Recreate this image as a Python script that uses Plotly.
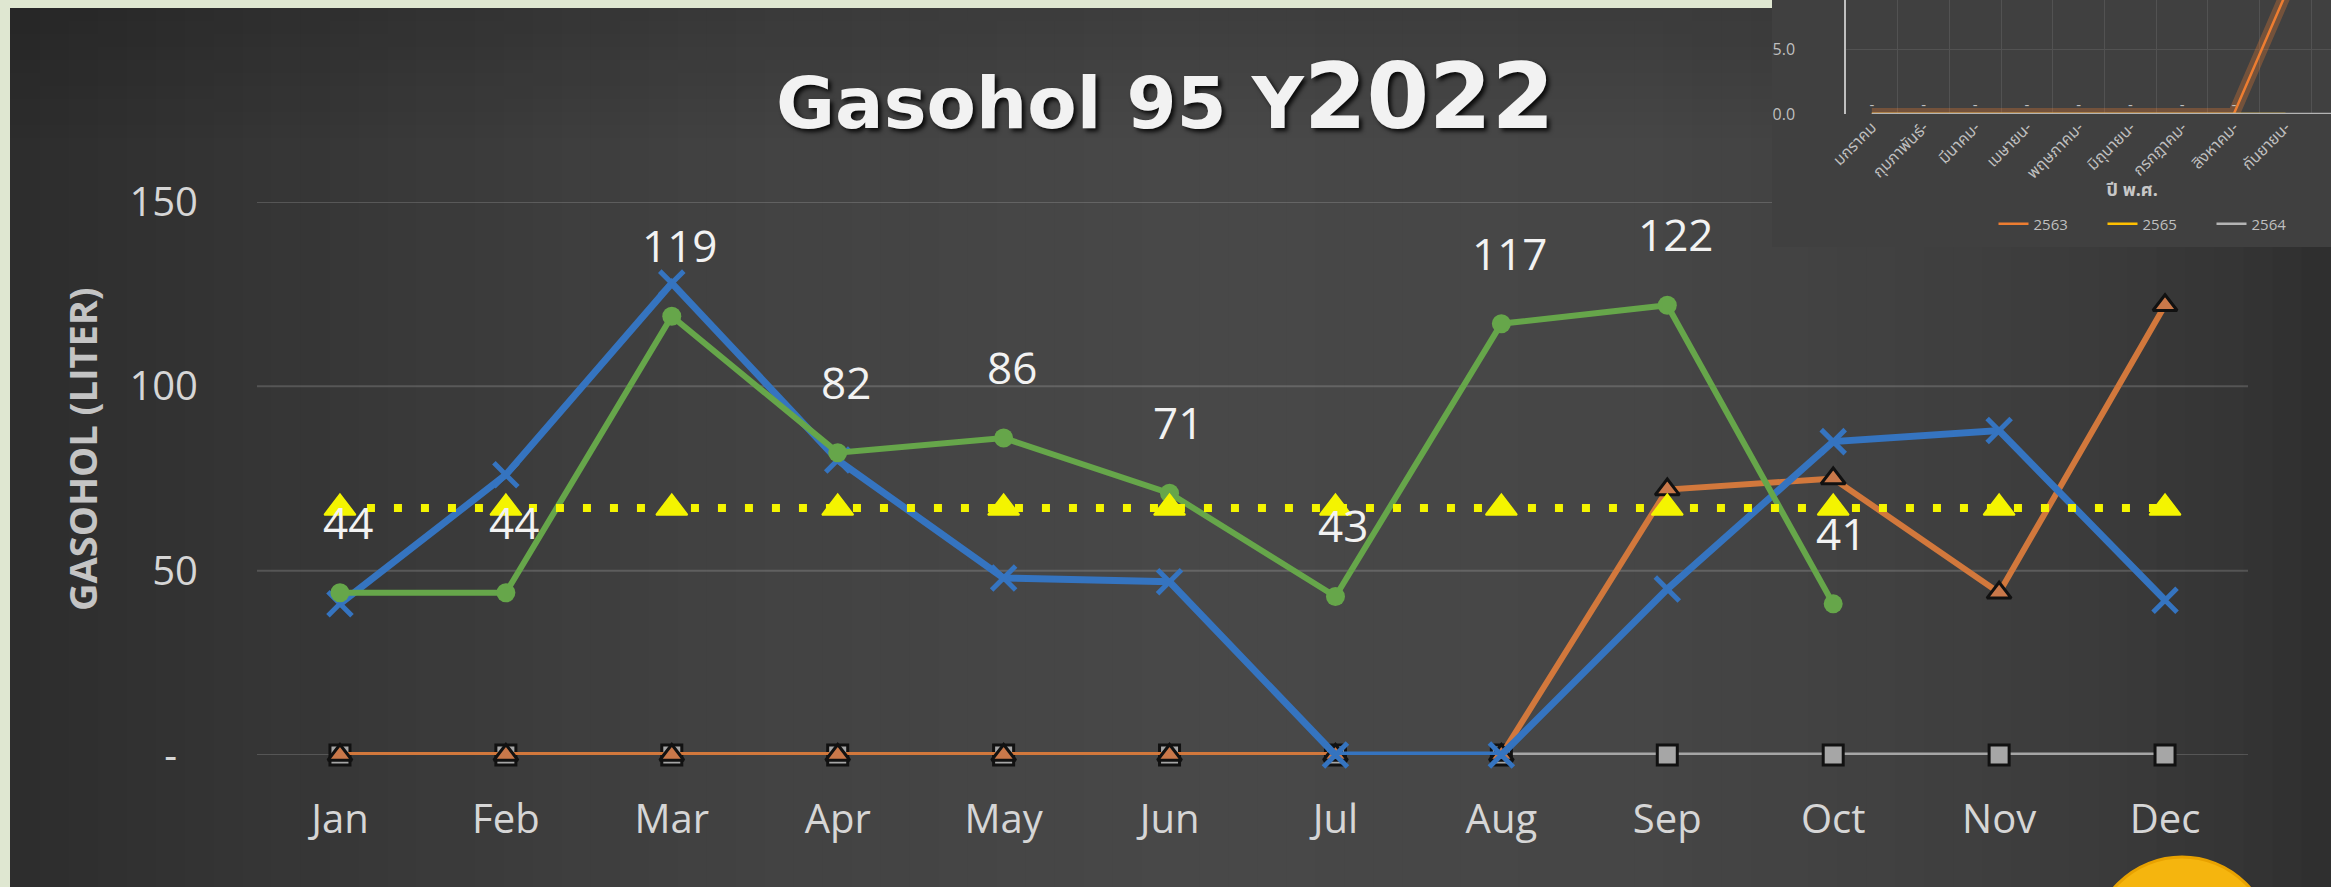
import plotly.graph_objects as go
import numpy as np

W, H = 2331, 887

# ---------------- data: main chart ----------------
months = ["Jan", "Feb", "Mar", "Apr", "May", "Jun", "Jul", "Aug", "Sep", "Oct", "Nov", "Dec"]
green_2022 = [44, 44, 119, 82, 86, 71, 43, 117, 122, 41, None, None]
blue_series = [41, 76, 128, 80, 48, 47, 0, 0, 45, 85, 88, 42]
orange_series = [0, 0, 0, 0, 0, 0, 0, 0, 72, 75, 44, 122]
gray_series = [0, 0, 0, 0, 0, 0, 0, 0, 0, 0, 0, 0]
yellow_series = [67, 67, 67, 67, 67, 67, 67, 67, 67, 67, 67, 67]
y_tick_vals = [0, 50, 100, 150]
y_tick_text = ["-\u00a0\u00a0", "50", "100", "150"]

# ---------------- data: inset chart (top right) ----------------
inset_months = ["มกราคม", "กุมภาพันธ์-", "มีนาคม-", "เมษายน-", "พฤษภาคม-", "มิถุนายน-",
                "กรกฎาคม-", "สิงหาคม-", "กันยายน-", "ตุลาคม"]
inset_2563 = [0, 0, 0, 0, 0, 0, 0, 0, 9.2, None]
inset_2565 = [0, 0, 0, 0, 0, 0, 0, 0, 0, None]
inset_2564 = [0, 0, 0, 0, 0, 0, 0, 0, 0, 0]
inset_tick_vals = [0, 5]
inset_tick_text = ["0.0", "5.0"]


def fx(px):
    return px / W


def fy(py):
    return 1 - py / H


M_L, M_R, M_T, M_B = 257, 2248, 202, 755
I_L, I_T, I_B = 1846, 0, 114
THAI = "Noto Sans Thai, Noto Sans, sans-serif"

fig = go.Figure()

# main traces (draw order: gray, orange, blue, green, yellow)
fig.add_trace(go.Scatter(x=months, y=gray_series, mode="lines+markers",
                         line=dict(color="#a6a6a6", width=5),
                         marker=dict(symbol="square", size=20, color="#a6a6a6",
                                     line=dict(color="#111111", width=3)),
                         cliponaxis=False, showlegend=False))
fig.add_trace(go.Scatter(x=months, y=orange_series, mode="lines+markers",
                         line=dict(color="#d2783c", width=6),
                         marker=dict(symbol="triangle-up", size=21, color="#c9784a",
                                     line=dict(color="#111111", width=3)),
                         cliponaxis=False, showlegend=False))
fig.add_trace(go.Scatter(x=months, y=blue_series, mode="lines+markers",
                         line=dict(color="#3574c0", width=7),
                         marker=dict(symbol="x-thin", size=24,
                                     line=dict(color="#3574c0", width=5)),
                         cliponaxis=False, showlegend=False))
fig.add_trace(go.Scatter(x=months, y=green_2022, mode="lines+markers",
                         line=dict(color="#66a64a", width=6),
                         marker=dict(symbol="circle", size=19, color="#66a64a"),
                         cliponaxis=False, showlegend=False))
fig.add_trace(go.Scatter(x=months, y=yellow_series, mode="lines+markers",
                         line=dict(color="#f4f400", width=8, dash="8px,19px"),
                         marker=dict(symbol="triangle-up", size=27, color="#f4f400",
                                     line=dict(color="#f4f400", width=2)),
                         cliponaxis=False, showlegend=False))

# inset traces
fig.add_trace(go.Scatter(x=inset_months, y=inset_2563, xaxis="x2", yaxis="y2", mode="lines",
                         line=dict(color="rgba(237,125,49,0.30)", width=12),
                         showlegend=False, hoverinfo="skip"))
fig.add_trace(go.Scatter(x=inset_months, y=inset_2563, xaxis="x2", yaxis="y2", mode="lines",
                         line=dict(color="#ed7d31", width=2.5), name="2563"))
fig.add_trace(go.Scatter(x=inset_months, y=inset_2565, xaxis="x2", yaxis="y2", mode="lines",
                         line=dict(color="#ffc000", width=2.5), name="2565"))
fig.add_trace(go.Scatter(x=inset_months, y=inset_2564, xaxis="x2", yaxis="y2", mode="lines",
                         line=dict(color="#b4b4b4", width=2.5), name="2564"))
fig.add_trace(go.Scatter(x=inset_months, y=inset_2563, xaxis="x2", yaxis="y2", mode="text",
                         text=["-" if v == 0 else "" for v in inset_2563],
                         textposition="top center",
                         textfont=dict(size=15, color="#bfbfbf", family="Open Sans"),
                         showlegend=False, hoverinfo="skip"))

# ---------------- shapes (background styling) ----------------
shapes = []
stops_x = [10, 300, 740, 1190, 1635, 2007, 2230, 2331]
stops_g = [44, 54, 66, 72, 70, 62, 53, 46]
n_strips = 80
edges = np.linspace(10, W, n_strips + 1)
for a, b in zip(edges[:-1], edges[1:]):
    g = int(round(np.interp((a + b) / 2, stops_x, stops_g)))
    shapes.append(dict(type="rect", xref="paper", yref="paper", layer="below",
                       x0=fx(a), x1=fx(b + 1), y0=fy(H), y1=fy(8),
                       fillcolor=f"rgb({g},{g},{g})", line=dict(width=0)))
# slight darkening toward the top edge
for i in range(10):
    shapes.append(dict(type="rect", xref="paper", yref="paper", layer="below",
                       x0=fx(10), x1=1.0, y0=fy(8 + (i + 1) * 13), y1=fy(8 + i * 13),
                       fillcolor=f"rgba(0,0,0,{0.13 * (1 - i / 10):.3f})", line=dict(width=0)))
# main horizontal gridlines
for v in y_tick_vals:
    shapes.append(dict(type="line", xref="paper", yref="y", layer="below",
                       x0=fx(M_L), x1=fx(M_R), y0=v, y1=v,
                       line=dict(color="rgba(255,255,255,0.16)", width=2)))
# inset panel
shapes.append(dict(type="rect", xref="paper", yref="paper", layer="below",
                   x0=fx(1772), x1=1.0, y0=fy(247), y1=1.0,
                   fillcolor="#404040", line=dict(width=0)))
# orange badge at bottom right
shapes.append(dict(type="circle", xref="paper", yref="paper", layer="below",
                   x0=fx(2092), x1=fx(2272), y0=fy(1037), y1=fy(857),
                   fillcolor="#f5b50e", line=dict(color="#e8a200", width=3)))

# ---------------- annotations ----------------
ann = []
ann.append(dict(xref="paper", yref="paper", x=fx(1165), y=fy(97), showarrow=False,
                text="<b>Gasohol 95 Y<span style='font-size:90px'>2022</span></b>",
                font=dict(family="DejaVu Sans", size=72, color="#f2f2f2",
                          shadow="3px 3px 4px rgba(0,0,0,0.85)"),
                xanchor="center", yanchor="middle"))
ann.append(dict(xref="paper", yref="paper", x=fx(82), y=fy(449), showarrow=False,
                text="<b>GASOHOL (LITER)</b>", textangle=-90,
                font=dict(family="Open Sans", size=38, color="#c4c4c4"),
                xanchor="center", yanchor="middle"))
for m, v in zip(months, green_2022):
    if v is None:
        continue
    ann.append(dict(xref="x", yref="y", x=m, y=v, yshift=71, xshift=8, showarrow=False,
                    text=str(v), font=dict(family="Open Sans", size=44, color="#f2f2f2")))
ann.append(dict(xref="paper", yref="paper", x=fx(2132), y=fy(190), showarrow=False,
                text="<b>ปี พ.ศ.</b>", xanchor="center", yanchor="middle",
                font=dict(family=THAI, size=18, color="#c8c8c8")))
# last inset month label, cut by the right edge of the picture
ann.append(dict(xref="x2", yref="y2", x=inset_months[9], y=0, yshift=-6, showarrow=False,
                text=inset_months[9], textangle=-45, xanchor="right", yanchor="top",
                font=dict(family=THAI, size=16, color="#bfbfbf")))

fig.update_layout(
    width=W, height=H, autosize=False,
    margin=dict(l=0, r=0, t=0, b=0, pad=0, autoexpand=False),
    paper_bgcolor="#dfe7d1",
    plot_bgcolor="rgba(0,0,0,0)",
    shapes=shapes,
    annotations=ann,
    xaxis=dict(domain=[fx(M_L), fx(M_R)], type="category", categoryorder="array",
               categoryarray=months, range=[-0.5, 11.5], showgrid=False, zeroline=False,
               showline=False, ticks="outside", ticklen=29, tickcolor="rgba(0,0,0,0)",
               automargin=False,
               tickfont=dict(family="Open Sans", size=40, color="#d6d6d6"), fixedrange=True),
    yaxis=dict(domain=[fy(M_B), fy(M_T)], range=[0, 150], tickvals=y_tick_vals,
               ticktext=y_tick_text, showgrid=False, zeroline=False, showline=False,
               ticks="outside", ticklen=50, tickcolor="rgba(0,0,0,0)", automargin=False,
               tickfont=dict(family="Open Sans", size=40, color="#d6d6d6"), fixedrange=True),
    xaxis2=dict(domain=[fx(I_L), 1.0], anchor="y2", type="category", categoryorder="array",
                categoryarray=inset_months, range=[-0.5, 8.88], tickson="boundaries",
                showgrid=True, gridcolor="#525252", gridwidth=1, zeroline=False,
                showline=False, ticks="", tickangle=-45, automargin=False,
                tickfont=dict(family=THAI, size=16, color="#bfbfbf"),
                fixedrange=True),
    yaxis2=dict(domain=[fy(I_B), 1.0], anchor="x2", range=[0, 8.77],
                tickvals=inset_tick_vals, ticktext=inset_tick_text,
                showgrid=True, gridcolor="#525252", gridwidth=1, zeroline=False,
                showline=True, linecolor="#c0c0c0", linewidth=1.5, automargin=False,
                ticks="outside", ticklen=46, tickcolor="rgba(0,0,0,0)",
                tickfont=dict(family="Open Sans", size=16, color="#bfbfbf"), fixedrange=True),
    legend=dict(orientation="h", x=fx(2157), xanchor="center", y=fy(224), yanchor="middle",
                font=dict(family="Open Sans", size=15, color="#bfbfbf"),
                bgcolor="rgba(0,0,0,0)", itemwidth=30, traceorder="normal",
                entrywidth=64, entrywidthmode="pixels"),
)

fig.write_html("out.html", config={"displayModeBar": False},
               post_script="document.body.style.margin='0px';document.body.style.overflow='hidden';")
